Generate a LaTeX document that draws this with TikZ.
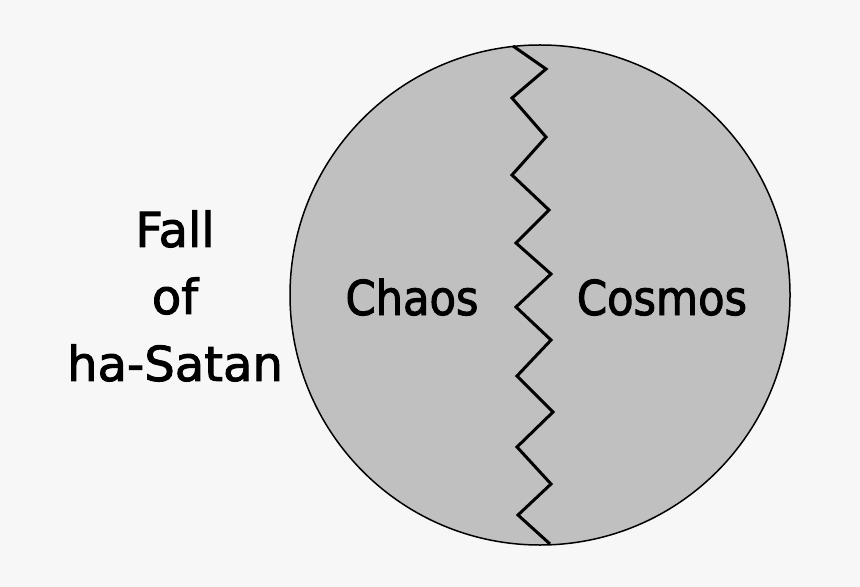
\documentclass[tikz,border=0pt]{standalone}
\usepackage{fontspec}
\setmainfont{DejaVu Sans}[FakeStretch=0.9, FakeBold=2]
\newfontfamily\sidefont{DejaVu Sans}[FakeBold=2]
\usepackage{tikz}
\definecolor{bgcol}{HTML}{F7F7F7}
\definecolor{discol}{HTML}{C0C0C0}
\tikzset{
  label text/.style={font=\fontsize{24}{33.5}\selectfont, inner sep=0pt},
}
\begin{document}
\begin{tikzpicture}[x=0.5pt, y=-0.5pt]
\fill[bgcol] (0,0) rectangle (860,587);
\useasboundingbox (0,0) rectangle (860,587);
\draw[fill=discol, draw=black, line width=0.75pt] (540,295) circle [radius=250];
% the jagged crack from top to bottom
\draw[line width=1.5pt, line join=miter] (513,46) -- (546,69) -- (512,98) -- (546,137)
  -- (512,175) -- (549,210) -- (516,243) -- (551,274) -- (516,307) -- (551,340)
  -- (517,376) -- (553,412) -- (517,447) -- (551,484) -- (518,515) -- (550,544);
\node[label text, anchor=base] (chaos) at (412,315) {Chaos};
\node[label text, anchor=base] (cosmos) at (662,315) {Cosmos};
\node[label text, align=center] (fall) at (175,296) {\sidefont Fall\\\sidefont of\\\sidefont ha-Satan};
\end{tikzpicture}
\end{document}
